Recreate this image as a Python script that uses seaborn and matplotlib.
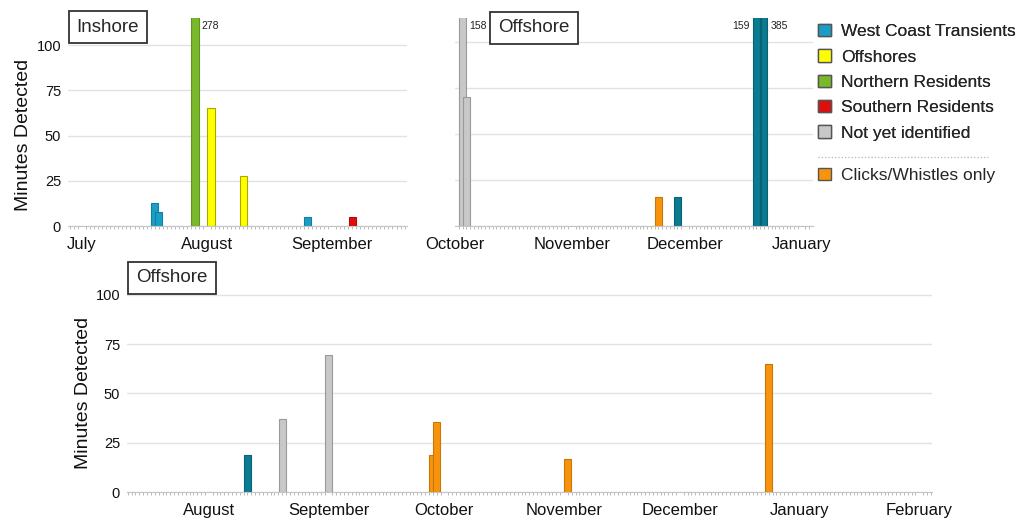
import numpy as np
import pandas as pd
import matplotlib
matplotlib.use("Agg")
import matplotlib.pyplot as plt
import matplotlib.colors as mcolors
from matplotlib.patches import Patch
from matplotlib.lines import Line2D
import seaborn as sns

# ---------------- data ----------------
legend_labels = ["West Coast Transients", "Offshores", "Northern Residents",
                 "Southern Residents", "Not yet identified"]
extra_label = "Clicks/Whistles only"

# Panel 1: Inshore (July - September)
inshore_dates = ["2009-07-19", "2009-07-20", "2009-07-29", "2009-08-02",
                 "2009-08-10", "2009-08-26", "2009-09-06"]
inshore_types = ["West Coast Transients", "West Coast Transients", "Northern Residents",
                 "Offshores", "Offshores", "West Coast Transients", "Southern Residents"]
inshore_minutes = [12.5, 8, 278, 65, 27.5, 5, 5]
inshore_months = ["July", "August", "September"]
inshore_month_starts = ["2009-07-01", "2009-08-01", "2009-09-01"]

# Panel 2: Offshore (October - January)
off1_dates = ["2009-10-03", "2009-10-04", "2009-11-24", "2009-11-29",
              "2009-12-20", "2009-12-22"]
off1_types = ["Not yet identified", "Not yet identified", "Clicks/Whistles only",
              "West Coast Transients", "West Coast Transients", "West Coast Transients"]
off1_minutes = [158, 70, 16, 16, 159, 385]
off1_months = ["October", "November", "December", "January"]
off1_month_starts = ["2009-10-01", "2009-11-01", "2009-12-01", "2010-01-01"]

# Panel 3: Offshore (August - February)
off2_dates = ["2010-08-11", "2010-08-20", "2010-09-01", "2010-09-28",
              "2010-09-29", "2010-11-02", "2010-12-24"]
off2_types = ["West Coast Transients", "Not yet identified", "Not yet identified",
              "Clicks/Whistles only", "Clicks/Whistles only", "Clicks/Whistles only",
              "Clicks/Whistles only"]
off2_minutes = [19, 37, 69.5, 19, 35.5, 16.5, 65]
off2_months = ["August", "September", "October", "November", "December",
               "January", "February"]
off2_month_starts = ["2010-08-01", "2010-09-01", "2010-10-01", "2010-11-01",
                     "2010-12-01", "2011-01-01", "2011-02-01"]

yticks = [0, 25, 50, 75, 100]

# ---------------- styles ----------------
pal_inshore = {"West Coast Transients": "#1a9dc6", "Offshores": "#ffff00",
               "Northern Residents": "#78b82a", "Southern Residents": "#e00d0d",
               "Not yet identified": "#c8c8c8", "Clicks/Whistles only": "#f7940c"}
pal_offshore = dict(pal_inshore)
pal_offshore["West Coast Transients"] = "#0b7b91"
edge_map = {"#ffff00": "#a8a800", "#c8c8c8": "#9a9a9a"}

sns.set_style("white")
plt.rcParams["font.family"] = ["Liberation Sans", "DejaVu Sans"]

fig = plt.figure(figsize=(10.2, 5.21), dpi=100)
W, H = 1020, 521


def px_axes(l, t, r, b):
    return fig.add_axes([l / W, 1 - b / H, (r - l) / W, (b - t) / H])


ax1 = px_axes(68, 18, 407, 226)
ax2 = px_axes(455, 18, 813, 226)
ax3 = px_axes(127, 293, 932, 492)


def draw_panel(ax, dates, types, minutes, months, month_starts, origin,
               palette, xlim_days, ylim, show_ylabels, bar_days=1.8):
    origin = pd.Timestamp(origin)
    day = [(pd.Timestamp(d) - origin).days for d in dates]
    df = pd.DataFrame({"day": day, "type": types, "minutes": minutes})
    native = np.diff(np.unique(df["day"])).min()
    order = [k for k in palette if k in set(types)]
    sns.barplot(data=df, x="day", y="minutes", hue="type", hue_order=order,
                palette=palette, native_scale=True, dodge=False, errorbar=None,
                width=bar_days / native, legend=False, ax=ax, linewidth=0.8,
                saturation=1)
    for p in ax.patches:
        fc = mcolors.to_hex(p.get_facecolor())
        ec = edge_map.get(fc)
        if ec is None:
            r, g, b = mcolors.to_rgb(fc)
            ec = (r * 0.8, g * 0.8, b * 0.8)
        p.set_edgecolor(ec)
    ax.set_ylim(*ylim)
    ax.set_xlim(*xlim_days)
    ticks = [(pd.Timestamp(m) - origin).days for m in month_starts]
    ax.set_xticks(ticks)
    ax.set_xticklabels(months, fontsize=12, color="#111111")
    ax.set_xticks(np.arange(np.ceil(xlim_days[0]), xlim_days[1]), minor=True)
    ax.tick_params(axis="x", which="major", length=0, pad=8)
    ax.tick_params(axis="x", which="minor", length=2.5, width=0.6,
                   color="#b0b0b0", direction="out", bottom=True)
    ax.set_yticks(yticks)
    ax.tick_params(axis="y", length=0, labelsize=10.5, pad=5,
                   labelcolor="#111111")
    if not show_ylabels:
        ax.set_yticklabels([])
    ax.yaxis.grid(True, color="#e2e2e2", lw=1.0)
    ax.set_axisbelow(True)
    for s in ["top", "right", "left"]:
        ax.spines[s].set_visible(False)
    ax.spines["bottom"].set_color("#c4c4c4")
    ax.spines["bottom"].set_linewidth(0.8)
    ax.set_xlabel("")
    ax.set_ylabel("")
    return df


df1 = draw_panel(ax1, inshore_dates, inshore_types, inshore_minutes,
                 inshore_months, inshore_month_starts, "2009-07-01",
                 pal_inshore, (-3.5, 80.6), (0, 115), True)
df2 = draw_panel(ax2, off1_dates, off1_types, off1_minutes,
                 off1_months, off1_month_starts, "2009-10-01",
                 pal_offshore, (0.8, 95.0), (0, 113), False)
df3 = draw_panel(ax3, off2_dates, off2_types, off2_minutes,
                 off2_months, off2_month_starts, "2010-08-01",
                 pal_offshore, (-21.2, 187.3), (0, 101), True)

# y labels
ax1.set_ylabel("Minutes Detected", fontsize=14, color="#111111")
ax1.yaxis.set_label_coords(-0.106, 0.44)
ax3.set_ylabel("Minutes Detected", fontsize=14, color="#111111")
ax3.yaxis.set_label_coords(-0.043, 0.50)

# clipped-value annotations
def label_clipped(ax, df, side_map):
    top = ax.get_ylim()[1]
    for _, row in df.iterrows():
        if row["minutes"] > top:
            side = side_map.get(int(row["day"]), "right")
            off = 5 if side == "right" else -5
            ax.annotate(f"{row['minutes']:g}", (row["day"], top), xytext=(off, -6),
                        textcoords="offset points", fontsize=7.5,
                        ha="left" if side == "right" else "right", va="center",
                        color="#222222", annotation_clip=False)

label_clipped(ax1, df1, {})
d159 = (pd.Timestamp(off1_dates[4]) - pd.Timestamp("2009-10-01")).days
label_clipped(ax2, df2, {d159: "left"})

# panel title boxes
box = dict(boxstyle="square,pad=0.42", facecolor="white", edgecolor="#333333", lw=1.3)
fig.text(108 / W, 1 - 27 / H, "Inshore", fontsize=13.5, ha="center", va="center", bbox=box)
fig.text(534 / W, 1 - 28 / H, "Offshore", fontsize=13.5, ha="center", va="center", bbox=box)
fig.text(172 / W, 1 - 278 / H, "Offshore", fontsize=13.5, ha="center", va="center", bbox=box)

# legend
def handle(c):
    return Patch(facecolor=c, edgecolor="#555555", lw=1.0)

h1 = [handle(pal_inshore[k]) for k in legend_labels]
leg1 = fig.legend(h1, legend_labels, loc="upper left",
                  bbox_to_anchor=(818 / W, 1 - 24 / H), frameon=False,
                  fontsize=12.5, handlelength=0.72, handleheight=0.72,
                  handletextpad=0.6, labelspacing=0.58, borderpad=0,
                  borderaxespad=0)
fig.add_artist(leg1)
fig.add_artist(Line2D([818 / W, 988 / W], [1 - 157 / H, 1 - 157 / H],
                      transform=fig.transFigure, color="#b5b5b5", lw=0.9, ls=":"))
leg2 = fig.legend([handle(pal_inshore[extra_label])], [extra_label], loc="upper left",
                  bbox_to_anchor=(818 / W, 1 - 168 / H), frameon=False,
                  fontsize=12.5, handlelength=0.72, handleheight=0.72,
                  handletextpad=0.6, borderpad=0, borderaxespad=0)

fig.savefig("out.png", dpi=100, facecolor="white")
